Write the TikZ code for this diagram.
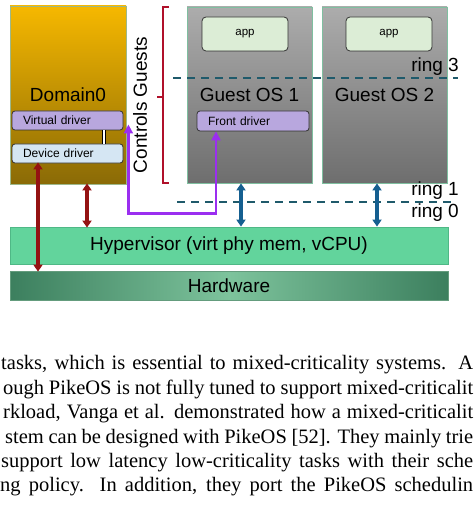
\documentclass[tikz,border=0pt]{standalone}
\usepackage{fontspec}
\setmainfont{Liberation Serif}
\newfontfamily\diag{Liberation Sans}
\usetikzlibrary{arrows.meta,calc}
\definecolor{domtop}{HTML}{F6B800}
\definecolor{dombot}{HTML}{8A6A06}
\definecolor{domborder}{HTML}{9DB88A}
\definecolor{gtop}{HTML}{ACACAC}
\definecolor{gbot}{HTML}{6E6E6E}
\definecolor{gborder}{HTML}{7FBFA0}
\definecolor{appfill}{HTML}{DCEDD6}
\definecolor{lav}{HTML}{B8A7DE}
\definecolor{devfill}{HTML}{D5E6F3}
\definecolor{hvfill}{HTML}{62D49C}
\definecolor{hvborder}{HTML}{4FB886}
\definecolor{hwdark}{HTML}{3C7F5E}
\definecolor{hwlight}{HTML}{7DC39C}
\definecolor{ringc}{HTML}{1F5A6B}
\definecolor{brk}{HTML}{B0102A}
\definecolor{redarr}{HTML}{941212}
\definecolor{bluearr}{HTML}{155F90}
\definecolor{purp}{HTML}{9B2EF0}
\newcommand{\paratext}[2]{\makebox[#1][s]{#2}}
\tikzset{
  bigtext/.style={font=\diag\fontsize{19}{21}\selectfont},
  domainbox/.style={draw=domborder, line width=0.8pt, top color=domtop, bottom color=dombot, minimum width=116pt, minimum height=178pt, inner sep=0pt, bigtext},
  guestbox/.style={draw=gborder, line width=0.8pt, top color=gtop, bottom color=gbot, minimum width=125pt, minimum height=176pt, inner sep=0pt, bigtext},
  appbox/.style={draw=black!80, line width=0.8pt, rounded corners=4pt, fill=appfill, minimum width=86pt, minimum height=34pt, inner sep=0pt, font=\diag\fontsize{11.5}{13}\selectfont},
  drvbox/.style={draw=black!80, line width=0.8pt, rounded corners=3pt, minimum height=19pt, inner ysep=0pt, align=left, font=\diag\fontsize{12}{14}\selectfont},
  layerbox/.style={line width=0.8pt, minimum width=438pt, inner sep=0pt, bigtext},
  ringline/.style={draw=ringc, line width=1.8pt, dash pattern=on 8pt off 6pt},
  ringlabel/.style={anchor=east, inner sep=0pt, bigtext},
  redlink/.style={draw=redarr, line width=3.5pt, {Triangle[width=9pt,length=7pt]}-{Triangle[width=9pt,length=7pt]}, shorten <=-1pt, shorten >=-1pt},
  bluelink/.style={draw=bluearr, line width=3.5pt, {Triangle[width=9pt,length=7pt]}-{Triangle[width=9pt,length=7pt]}},
  purplink/.style={draw=purp, line width=2.2pt, {Triangle[width=9pt,length=9pt]}-{Triangle[width=9pt,length=9pt]}},
  paraline/.style={anchor=base west, inner sep=0pt, font=\fontsize{20.5}{25}\selectfont}
}
\begin{document}
\begin{tikzpicture}[x=1pt, y=-1pt]
\useasboundingbox (0,0) rectangle (474,505);
\fill[white] (0,0) rectangle (474,505);

% Domain0
\node[domainbox] (d0) at (68,95) {\raisebox{-2pt}{Domain0}};
\node[drvbox, fill=lav, text width=89pt, inner xsep=11pt] (vd) at (67.5,120.5) {Virtual driver};
\node[drvbox, fill=devfill, text width=89pt, inner xsep=11pt] (dd) at (67.5,153.5) {Device driver};
\draw[black, line width=0.6pt, double=white, double distance=2.5pt] (vd.south -| 104,0) -- (dd.north -| 104,0);

% Controls Guests + bracket
\node[rotate=90, inner sep=0pt, bigtext] (cg) at (140,105) {Controls Guests};
\draw[brk, line width=2pt] (169,7) -- (163,7) -- (163,183) -- (169,183);
\draw[brk, line width=2pt] (163,97) -- (157,97);

% Guests
\node[guestbox] (g1) at (249.5,95) {\raisebox{-2pt}{Guest OS 1}};
\node[guestbox] (g2) at (384.5,95) {\raisebox{-2pt}{Guest OS 2}};
\node[appbox] (a1) at (245,34) {app};
\node[appbox] (a2) at (389,34) {app};
\node[drvbox, fill=lav, text width=90pt, inner xsep=11pt, minimum height=20pt] (fd) at (253,121) {Front driver};

% ring lines
\coordinate (r3a) at (173,78);
\coordinate (r3b) at (458,78);
\coordinate (r1a) at (177,202);
\coordinate (r1b) at (456,202);
\draw[ringline] (r3a) -- (r3b);
\draw[ringline] (r1a) -- (r1b);
\node[ringlabel] (ring3) at (459,67) {ring 3};
\node[ringlabel] (ring1) at (459,191) {ring 1};
\node[ringlabel] (ring0) at (459,213) {ring 0};

% Hypervisor and hardware
\node[layerbox, draw=hvborder, fill=hvfill, minimum height=37pt] (hv) at (229,245.5) {Hypervisor (virt phy mem, vCPU)};
\node[layerbox, draw=hwlight!80!black, left color=hwdark, right color=hwdark, middle color=hwlight, minimum height=29pt] (hw) at (229,285.5) {Hardware};

% arrows
\coordinate (xa) at (38,0);
\coordinate (xb) at (87,0);
\coordinate (xc) at (241,0);
\coordinate (xd) at (377,0);
\coordinate (xp) at (216,0);
\draw[redlink] (dd.south -| xa) -- (hw.north -| xa);
\draw[redlink] (d0.south -| xb) -- (hv.north -| xb);
\draw[bluelink] (g1.south -| xc) -- (hv.north -| xc);
\draw[bluelink] (g2.south -| xd) -- (hv.north -| xd);
\draw[purplink] ($(vd.east)+(5,4)$) -- ++(0,89) -| (fd.south -| xp);

% paragraph
\node[paraline] (p1) at (1,369) {\paratext{472pt}{tasks, which is essential to mixed-criticality systems. A}};
\node[paraline] (p2) at (3,394) {\paratext{470pt}{ough PikeOS is not fully tuned to support mixed-criticalit}};
\node[paraline] (p3) at (3,418) {\paratext{470pt}{rkload, Vanga et al. demonstrated how a mixed-criticalit}};
\node[paraline] (p4) at (5,443) {\paratext{468pt}{stem can be designed with PikeOS [52]. They mainly trie}};
\node[paraline] (p5) at (1,467) {\paratext{472pt}{support low latency low-criticality tasks with their sche}};
\node[paraline] (p6) at (0,491) {\paratext{473pt}{ng policy. In addition, they port the PikeOS schedulin}};
\end{tikzpicture}
\end{document}
